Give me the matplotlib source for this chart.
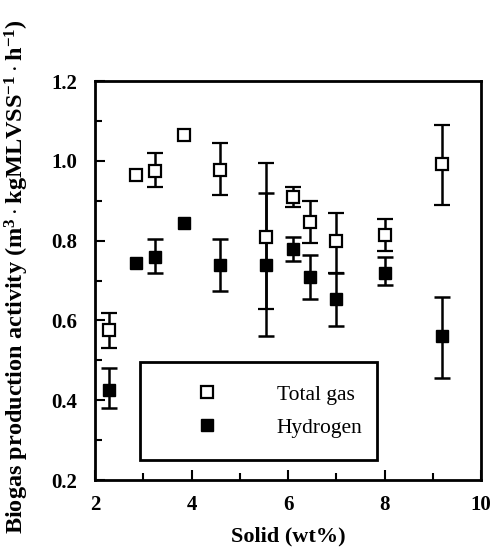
import numpy as np
import matplotlib
matplotlib.use('Agg')
import matplotlib.pyplot as plt
from matplotlib.ticker import MultipleLocator
from matplotlib.lines import Line2D

# ── Données (nan = pas de barre d'erreur) ──
solid = [2.3, 2.85, 3.25, 3.85, 4.6, 5.55, 6.1, 6.45, 7.0, 8.0, 9.2]

total_gas = [0.575, 0.965, 0.975, 1.065, 0.978, 0.81, 0.91, 0.848, 0.80, 0.815, 0.993]
total_hi  = [0.62, np.nan, 1.02, np.nan, 1.045, 0.995, 0.935, 0.90, 0.87, 0.855, 1.09]
total_lo  = [0.53, np.nan, 0.935, np.nan, 0.915, 0.63, 0.885, 0.795, 0.72, 0.775, 0.89]

hydrogen = [0.425, 0.745, 0.76, 0.845, 0.74, 0.74, 0.78, 0.71, 0.655, 0.72, 0.56]
h2_hi    = [0.48, np.nan, 0.805, np.nan, 0.805, 0.92, 0.81, 0.765, 0.72, 0.76, 0.66]
h2_lo    = [0.38, np.nan, 0.72, np.nan, 0.675, 0.56, 0.75, 0.655, 0.585, 0.69, 0.455]

y_ticks = [0.2, 0.4, 0.6, 0.8, 1.0, 1.2]

plt.rcParams['font.family'] = ['Liberation Serif', 'DejaVu Serif']
plt.rcParams['font.weight'] = 'bold'
plt.rcParams['mathtext.fontset'] = 'custom'
plt.rcParams['mathtext.rm'] = 'Liberation Serif:bold'
plt.rcParams['mathtext.it'] = 'Liberation Serif:bold'
plt.rcParams['mathtext.bf'] = 'Liberation Serif:bold'

fig = plt.figure(figsize=(5.04, 5.57), dpi=100)
ax = fig.add_axes([0.1885, 0.138, 0.766, 0.7165])

def err(v, hi, lo):
    v, hi, lo = np.array(v), np.array(hi), np.array(lo)
    return np.vstack([v - lo, hi - v])

ax.errorbar(solid, total_gas, yerr=err(total_gas, total_hi, total_lo), fmt='s',
            mfc='white', mec='black', mew=1.6, ms=8, ecolor='black', elinewidth=1.8,
            capsize=6, capthick=1.8, zorder=3)
ax.errorbar(solid, hydrogen, yerr=err(hydrogen, h2_hi, h2_lo), fmt='s',
            mfc='black', mec='black', ms=8, ecolor='black', elinewidth=1.8,
            capsize=6, capthick=1.8, zorder=3)

ax.set_yticks(y_ticks)
ax.set_yticklabels([f"{v:.1f}" for v in y_ticks])
ax.yaxis.set_minor_locator(MultipleLocator(0.1))
ax.xaxis.set_major_locator(MultipleLocator(2))
ax.xaxis.set_minor_locator(MultipleLocator(1))
ax.set_xlim(2, 10)
ax.set_ylim(0.2, 1.2)
ax.tick_params(which='both', direction='in', width=1.5, labelsize=15)
ax.tick_params(axis='x', pad=11)
ax.tick_params(axis='y', pad=13)
ax.tick_params(which='major', length=7)
ax.tick_params(which='minor', length=5)
for s in ax.spines.values():
    s.set_linewidth(2)

ax.set_xlabel("Solid (wt%)", fontsize=16, fontweight='bold', labelpad=8)
ax.set_ylabel(r"Biogas production activity (m$^{3}\cdot$kgMLVSS$^{-1}\cdot$h$^{-1}$)",
              fontsize=17.5, fontweight='bold')
ax.yaxis.set_label_coords(-0.165, 0.51)

handles = [Line2D([], [], ls='none', marker='s', ms=8, mfc='white', mec='black', mew=1.6),
           Line2D([], [], ls='none', marker='s', ms=8, mfc='black', mec='black')]
leg = ax.legend(handles, ['Total gas', 'Hydrogen'], loc='lower left',
                bbox_to_anchor=(0.117, 0.05, 0.614, 0.243), mode='expand',
                fancybox=False, edgecolor='black', framealpha=1,
                borderpad=1.05, labelspacing=0.6, handletextpad=1.2, handlelength=4.1,
                borderaxespad=0,
                prop={'family': 'Liberation Serif', 'size': 15.5, 'weight': 'normal'})
leg.get_frame().set_linewidth(2)

plt.savefig("out.png", dpi=100)
